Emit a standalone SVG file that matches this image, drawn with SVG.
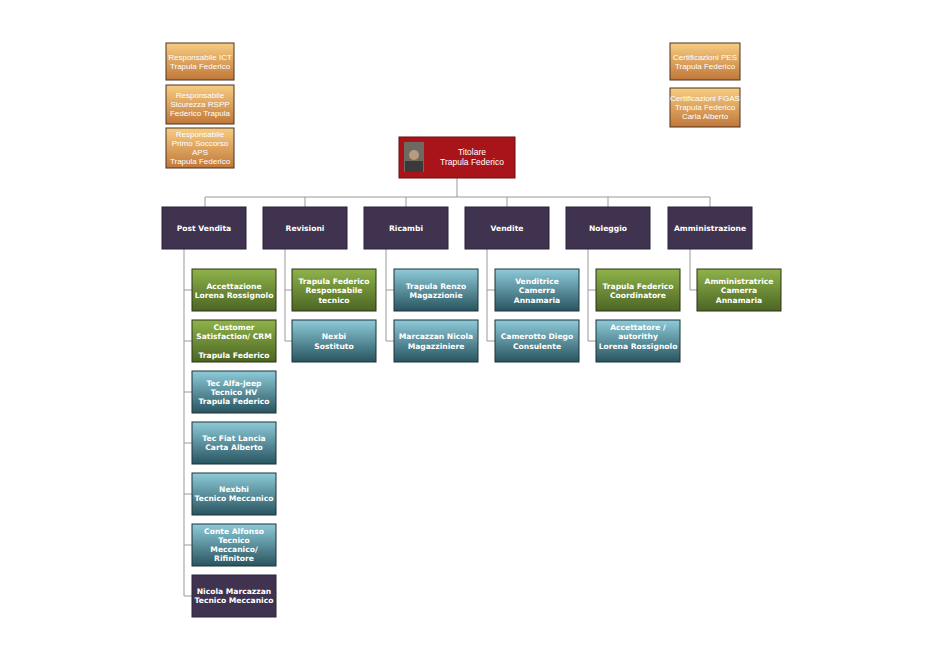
<svg xmlns="http://www.w3.org/2000/svg" width="944" height="668" viewBox="0 0 944 668">
<style>
text{font-family:"DejaVu Sans",Verdana,sans-serif;font-size:7.6px;font-weight:bold;fill:#fff;text-anchor:middle}
.o text{font-family:"Liberation Sans",Arial,sans-serif;font-weight:normal;font-size:8px}
.t text{font-family:"Liberation Sans",Arial,sans-serif;font-weight:normal;font-size:8.5px}
.o rect{fill:url(#go);stroke:#4a3320;stroke-width:1}
.d rect{fill:#3f3350;stroke:#2a2238}
.g rect{fill:url(#gg);stroke:#2a3315}
.b rect{fill:url(#gb);stroke:#1d3339}
.p rect{fill:#3f3350;stroke:#2a2238}
.c path{fill:none;stroke:#999;stroke-width:1}
</style>
<defs>
<linearGradient id="go" x1="0" y1="0" x2="0" y2="1"><stop offset="0" stop-color="#f7cd82"/><stop offset="1" stop-color="#c0783a"/></linearGradient>
<linearGradient id="gg" x1="0" y1="0" x2="0" y2="1"><stop offset="0" stop-color="#8fb34a"/><stop offset="1" stop-color="#4c6524"/></linearGradient>
<linearGradient id="gb" x1="0" y1="0" x2="0" y2="1"><stop offset="0" stop-color="#8ecbd9"/><stop offset="1" stop-color="#28545f"/></linearGradient>
</defs>
<rect width="944" height="668" fill="#fff"/>
<g class="c">
<path d="M457 178V197M205 197H710M205 197V207M305 197V207M406 197V207M507 197V207M608 197V207M710 197V207"/>
<path d="M184 249V596M184 290H192M184 341H192M184 392H192M184 443H192M184 494H192M184 545H192M184 596H192"/>
<path d="M285 249V341H292M285 290H292"/>
<path d="M386 249V341H394M386 290H394"/>
<path d="M487 249V341H495M487 290H495"/>
<path d="M588 249V341H596M588 290H596"/>
<path d="M690 249V290H697" stroke="#ccc"/>
</g>
<g id="ict" class="o"><rect x="166" y="43" width="68" height="37"/><text x="200" y="60">Responsabile ICT</text><text x="200" y="69">Trapula Federico</text></g>
<g id="rspp" class="o"><rect x="166" y="85" width="68" height="39"/><text x="200" y="98">Responsabile</text><text x="200" y="107">Sicurezza RSPP</text><text x="200" y="116">Federico Trapula</text></g>
<g id="aps" class="o"><rect x="166" y="128" width="68" height="40"/><text x="200" y="137">Responsabile</text><text x="200" y="146">Primo Soccorso</text><text x="200" y="155">APS</text><text x="200" y="164">Trapula Federico</text></g>
<g id="pes" class="o"><rect x="670" y="43" width="70" height="37"/><text x="705" y="60">Certificazioni PES</text><text x="705" y="69">Trapula Federico</text></g>
<g id="fgas" class="o"><rect x="670" y="88" width="70" height="39"/><text x="705" y="101">Certificazioni FGAS</text><text x="705" y="110">Trapula Federico</text><text x="705" y="119">Carla Alberto</text></g>
<g id="titolare" class="t"><rect x="399" y="137" width="116" height="41" fill="#a8141a" stroke="#6a0d10"/><rect x="404" y="142" width="20" height="30" fill="#6e6a62"/><circle cx="414" cy="155" r="5" fill="#b89a80"/><rect x="405" y="161" width="18" height="11" fill="#3a3a3a"/><text x="472" y="155">Titolare</text><text x="472" y="165">Trapula Federico</text></g>
<g id="postvendita" class="d"><rect x="162" y="207" width="84" height="42"/><text x="204" y="231">Post Vendita</text></g>
<g id="revisioni" class="d"><rect x="263" y="207" width="84" height="42"/><text x="305" y="231">Revisioni</text></g>
<g id="ricambi" class="d"><rect x="364" y="207" width="84" height="42"/><text x="406" y="231">Ricambi</text></g>
<g id="vendite" class="d"><rect x="465" y="207" width="84" height="42"/><text x="507" y="231">Vendite</text></g>
<g id="noleggio" class="d"><rect x="566" y="207" width="84" height="42"/><text x="608" y="231">Noleggio</text></g>
<g id="amministrazione" class="d"><rect x="668" y="207" width="84" height="42"/><text x="710" y="231">Amministrazione</text></g>
<g id="pv1" class="g"><rect x="192" y="269" width="84" height="42"/><text x="234" y="289">Accettazione</text><text x="234" y="298">Lorena Rossignolo</text></g>
<g id="pv2" class="g"><rect x="192" y="320" width="84" height="42"/><text x="234" y="330">Customer</text><text x="234" y="339">Satisfaction/ CRM</text><text x="234" y="358">Trapula Federico</text></g>
<g id="pv3" class="b"><rect x="192" y="371" width="84" height="42"/><text x="234" y="386">Tec Alfa-Jeep</text><text x="234" y="395">Tecnico HV</text><text x="234" y="404">Trapula Federico</text></g>
<g id="pv4" class="b"><rect x="192" y="422" width="84" height="42"/><text x="234" y="441">Tec Fiat Lancia</text><text x="234" y="450">Carta Alberto</text></g>
<g id="pv5" class="b"><rect x="192" y="473" width="84" height="42"/><text x="234" y="492">Nexbhi</text><text x="234" y="501">Tecnico Meccanico</text></g>
<g id="pv6" class="b"><rect x="192" y="524" width="84" height="42"/><text x="234" y="534">Conte Alfonso</text><text x="234" y="543">Tecnico</text><text x="234" y="552">Meccanico/</text><text x="234" y="561">Rifinitore</text></g>
<g id="pv7" class="p"><rect x="192" y="575" width="84" height="42"/><text x="234" y="594">Nicola Marcazzan</text><text x="234" y="603">Tecnico Meccanico</text></g>
<g id="rev1" class="g"><rect x="292" y="269" width="84" height="42"/><text x="334" y="284">Trapula Federico</text><text x="334" y="293">Responsabile</text><text x="334" y="303">tecnico</text></g>
<g id="rev2" class="b"><rect x="292" y="320" width="84" height="42"/><text x="334" y="339">Nexbi</text><text x="334" y="349">Sostituto</text></g>
<g id="ric1" class="b"><rect x="394" y="269" width="84" height="42"/><text x="436" y="289">Trapula Renzo</text><text x="436" y="298">Magazzionie</text></g>
<g id="ric2" class="b"><rect x="394" y="320" width="84" height="42"/><text x="436" y="339">Marcazzan Nicola</text><text x="436" y="349">Magazziniere</text></g>
<g id="ven1" class="b"><rect x="495" y="269" width="84" height="42"/><text x="537" y="284">Venditrice</text><text x="537" y="293">Camerra</text><text x="537" y="303">Annamaria</text></g>
<g id="ven2" class="b"><rect x="495" y="320" width="84" height="42"/><text x="537" y="339">Camerotto Diego</text><text x="537" y="349">Consulente</text></g>
<g id="nol1" class="g"><rect x="596" y="269" width="84" height="42"/><text x="638" y="289">Trapula Federico</text><text x="638" y="298">Coordinatore</text></g>
<g id="nol2" class="b"><rect x="596" y="320" width="84" height="42"/><text x="638" y="330">Accettatore /</text><text x="638" y="339">autorithy</text><text x="638" y="349">Lorena Rossignolo</text></g>
<g id="amm1" class="g"><rect x="697" y="269" width="84" height="42"/><text x="739" y="284">Amministratrice</text><text x="739" y="293">Camerra</text><text x="739" y="303">Annamaria</text></g>
</svg>
